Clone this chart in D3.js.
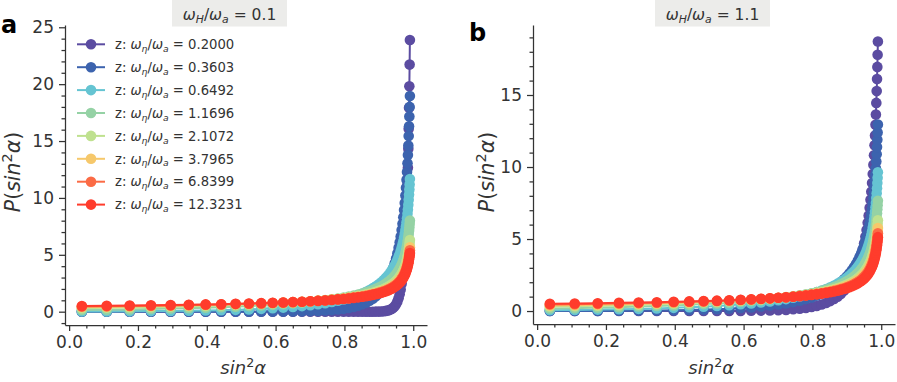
<!doctype html>
<html>
<head>
<meta charset="utf-8">
<script src="https://cdnjs.cloudflare.com/ajax/libs/d3/7.8.5/d3.min.js"></script>
<style>
  body { margin: 0; background: #fff; }
  svg text { font-family: "DejaVu Sans", sans-serif; fill: #333; white-space: pre; }
  .axis path, .axis line { stroke: #333; stroke-width: 1.25; }
</style>
</head>
<body>
<svg id="chart" width="897" height="382"></svg>
<script>
// sample points on the x axis (sin^2 alpha), shared by all curves
var sin2 = [0.0370, 0.1092, 0.1760, 0.2378, 0.2950, 0.3478, 0.3968, 0.4420, 0.4838, 0.5225,
  0.5583, 0.5915, 0.6221, 0.6504, 0.6767, 0.7009, 0.7233, 0.7441, 0.7633, 0.7810,
  0.7975, 0.8126, 0.8267, 0.8397, 0.8517, 0.8628, 0.8731, 0.8826, 0.8914, 0.8996,
  0.9071, 0.9141, 0.9205, 0.9265, 0.9320, 0.9371, 0.9418, 0.9462, 0.9502, 0.9539,
  0.9574, 0.9606, 0.9635, 0.9663, 0.9688, 0.9711, 0.9733, 0.9753, 0.9772, 0.9789,
  0.9805, 0.9819, 0.9833, 0.9845, 0.9857, 0.9868, 0.9878, 0.9887, 0.9895, 0.9903];

var zLabels = ["0.2000", "0.3603", "0.6492", "1.1696", "2.1072", "3.7965", "6.8399", "12.3231"];
var colors = ["#5b4ca1", "#3c63ae", "#65c4d2", "#95d2a5", "#bfe18f", "#f6c86b", "#fb6b45", "#ff3c2c"];
var xTicks = [0, 0.2, 0.4, 0.6, 0.8, 1.0];

// panel a, omega_H/omega_a = 0.1
var a_z0200 = [0, 0, 0, 0, 0, 0, 0, 0, 0, 0, 0, 0, 0, 0, 0, 0, 0, 0, 0, 0,
  0, 0, 0, 0, 0, 0, 0, 0, 0.01, 0.01, 0.02, 0.04, 0.07, 0.11, 0.16, 0.24, 0.34, 0.48, 0.66, 0.89,
  1.18, 1.53, 1.94, 2.45, 3.02, 3.68, 4.46, 5.32, 6.31, 7.37, 8.56, 9.79, 11.23, 12.65, 14.32, 16.08, 17.92, 19.81, 21.72, 23.88];
var a_z0360 = [0, 0, 0, 0, 0, 0, 0, 0, 0, 0, 0.01, 0.01, 0.01, 0.02, 0.03, 0.05, 0.07, 0.10, 0.14, 0.19,
  0.25, 0.33, 0.42, 0.53, 0.65, 0.79, 0.96, 1.14, 1.35, 1.58, 1.83, 2.11, 2.41, 2.73, 3.07, 3.44, 3.83, 4.25, 4.68, 5.13,
  5.61, 6.11, 6.62, 7.18, 7.74, 8.31, 8.93, 9.55, 10.22, 10.89, 11.59, 12.28, 13.05, 13.78, 14.60, 15.44, 16.30, 17.15, 18.00, 18.95];
var a_z0649 = [0.02, 0.02, 0.03, 0.05, 0.06, 0.08, 0.10, 0.13, 0.16, 0.20, 0.25, 0.30, 0.36, 0.42, 0.49, 0.57, 0.66, 0.75, 0.85, 0.96,
  1.07, 1.19, 1.32, 1.46, 1.60, 1.75, 1.90, 2.07, 2.23, 2.41, 2.59, 2.78, 2.98, 3.18, 3.39, 3.61, 3.83, 4.06, 4.30, 4.54,
  4.80, 5.06, 5.33, 5.62, 5.90, 6.20, 6.51, 6.83, 7.17, 7.51, 7.87, 8.22, 8.61, 8.99, 9.41, 9.84, 10.29, 10.73, 11.17, 11.66];
var a_z1170 = [0.15, 0.17, 0.20, 0.23, 0.27, 0.31, 0.35, 0.39, 0.44, 0.49, 0.55, 0.60, 0.66, 0.73, 0.79, 0.86, 0.93, 1.00, 1.08, 1.16,
  1.24, 1.33, 1.41, 1.51, 1.60, 1.70, 1.80, 1.90, 2.01, 2.12, 2.23, 2.35, 2.47, 2.60, 2.73, 2.86, 3.00, 3.15, 3.29, 3.45,
  3.61, 3.77, 3.94, 4.12, 4.30, 4.49, 4.69, 4.89, 5.11, 5.33, 5.56, 5.78, 6.04, 6.28, 6.55, 6.83, 7.12, 7.41, 7.70, 8.02];
var a_z3797 = [0.41, 0.43, 0.46, 0.49, 0.52, 0.55, 0.58, 0.62, 0.65, 0.68, 0.72, 0.76, 0.80, 0.84, 0.88, 0.92, 0.97, 1.01, 1.06, 1.11,
  1.16, 1.21, 1.26, 1.32, 1.38, 1.44, 1.50, 1.57, 1.63, 1.70, 1.78, 1.85, 1.93, 2.01, 2.09, 2.18, 2.27, 2.37, 2.46, 2.56,
  2.67, 2.78, 2.89, 3.01, 3.13, 3.26, 3.39, 3.53, 3.67, 3.82, 3.98, 4.13, 4.30, 4.47, 4.65, 4.84, 5.04, 5.24, 5.44, 5.66];
var a_z12323 = [0.49, 0.52, 0.54, 0.56, 0.58, 0.61, 0.64, 0.66, 0.69, 0.72, 0.75, 0.78, 0.81, 0.85, 0.88, 0.92, 0.95, 0.99, 1.03, 1.08,
  1.12, 1.16, 1.21, 1.26, 1.31, 1.36, 1.42, 1.48, 1.54, 1.60, 1.66, 1.73, 1.80, 1.87, 1.94, 2.02, 2.10, 2.19, 2.27, 2.36,
  2.46, 2.56, 2.66, 2.77, 2.88, 2.99, 3.11, 3.23, 3.36, 3.50, 3.64, 3.78, 3.93, 4.08, 4.25, 4.42, 4.60, 4.78, 4.96, 5.16];

// curves that look the same in both panels
var ab_z2107 = [0.31, 0.34, 0.37, 0.40, 0.44, 0.48, 0.51, 0.55, 0.59, 0.63, 0.68, 0.72, 0.77, 0.81, 0.86, 0.91, 0.97, 1.02, 1.08, 1.13,
  1.19, 1.26, 1.32, 1.39, 1.45, 1.52, 1.60, 1.67, 1.75, 1.83, 1.91, 2.00, 2.09, 2.18, 2.28, 2.38, 2.48, 2.59, 2.70, 2.81,
  2.94, 3.06, 3.19, 3.32, 3.46, 3.60, 3.75, 3.91, 4.07, 4.24, 4.41, 4.59, 4.78, 4.97, 5.17, 5.39, 5.61, 5.83, 6.06, 6.30];
var ab_z6840 = [0.45, 0.47, 0.50, 0.52, 0.55, 0.58, 0.61, 0.64, 0.67, 0.70, 0.73, 0.77, 0.80, 0.84, 0.88, 0.92, 0.96, 1.00, 1.05, 1.09,
  1.14, 1.19, 1.24, 1.29, 1.34, 1.40, 1.46, 1.52, 1.58, 1.65, 1.72, 1.79, 1.86, 1.94, 2.02, 2.10, 2.18, 2.27, 2.37, 2.46,
  2.56, 2.66, 2.77, 2.88, 3.00, 3.12, 3.25, 3.38, 3.51, 3.65, 3.80, 3.95, 4.11, 4.27, 4.44, 4.63, 4.81, 5.00, 5.19, 5.40];

// panel b, omega_H/omega_a = 1.1
var b_z0200 = [0, 0, 0, 0, 0, 0, 0, 0, 0, 0, 0.01, 0.01, 0.02, 0.03, 0.04, 0.06, 0.08, 0.12, 0.16, 0.21,
  0.28, 0.35, 0.45, 0.56, 0.69, 0.84, 1.00, 1.19, 1.40, 1.63, 1.89, 2.16, 2.46, 2.78, 3.13, 3.49, 3.87, 4.29, 4.71, 5.16,
  5.63, 6.13, 6.63, 7.17, 7.72, 8.29, 8.89, 9.51, 10.16, 10.82, 11.51, 12.18, 12.93, 13.65, 14.45, 15.27, 16.11, 16.95, 17.79, 18.71];
var b_z0360 = [0.01, 0.01, 0.01, 0.02, 0.03, 0.04, 0.06, 0.08, 0.10, 0.13, 0.16, 0.21, 0.25, 0.31, 0.38, 0.45, 0.53, 0.62, 0.72, 0.83,
  0.94, 1.07, 1.21, 1.35, 1.50, 1.67, 1.84, 2.02, 2.20, 2.40, 2.61, 2.82, 3.04, 3.27, 3.51, 3.76, 4.01, 4.28, 4.55, 4.83,
  5.12, 5.43, 5.73, 6.06, 6.39, 6.73, 7.09, 7.45, 7.84, 8.23, 8.64, 9.04, 9.48, 9.91, 10.39, 10.88, 11.39, 11.89, 12.39, 12.95];
var b_z0649 = [0.06, 0.08, 0.10, 0.12, 0.15, 0.18, 0.22, 0.26, 0.30, 0.35, 0.41, 0.47, 0.53, 0.60, 0.67, 0.75, 0.83, 0.92, 1.01, 1.11,
  1.21, 1.31, 1.42, 1.53, 1.65, 1.77, 1.90, 2.03, 2.16, 2.30, 2.45, 2.60, 2.75, 2.91, 3.08, 3.25, 3.42, 3.60, 3.79, 3.98,
  4.18, 4.39, 4.60, 4.82, 5.05, 5.28, 5.53, 5.79, 6.05, 6.32, 6.61, 6.89, 7.20, 7.50, 7.84, 8.18, 8.53, 8.89, 9.25, 9.64];
var b_z1170 = [0.18, 0.20, 0.24, 0.27, 0.31, 0.35, 0.39, 0.43, 0.48, 0.53, 0.58, 0.64, 0.69, 0.75, 0.81, 0.88, 0.95, 1.02, 1.09, 1.16,
  1.24, 1.32, 1.40, 1.49, 1.58, 1.67, 1.76, 1.86, 1.96, 2.07, 2.17, 2.28, 2.40, 2.52, 2.64, 2.76, 2.90, 3.03, 3.17, 3.32,
  3.47, 3.62, 3.78, 3.95, 4.12, 4.30, 4.49, 4.68, 4.89, 5.09, 5.31, 5.53, 5.77, 6.00, 6.25, 6.52, 6.79, 7.07, 7.34, 7.65];
var b_z3797 = [0.39, 0.41, 0.44, 0.47, 0.50, 0.53, 0.57, 0.60, 0.64, 0.67, 0.71, 0.75, 0.79, 0.83, 0.87, 0.92, 0.96, 1.01, 1.06, 1.11,
  1.16, 1.22, 1.27, 1.33, 1.39, 1.45, 1.52, 1.59, 1.65, 1.73, 1.80, 1.88, 1.96, 2.04, 2.13, 2.22, 2.31, 2.41, 2.51, 2.61,
  2.72, 2.83, 2.94, 3.07, 3.19, 3.32, 3.46, 3.60, 3.75, 3.90, 4.06, 4.21, 4.39, 4.56, 4.75, 4.94, 5.14, 5.35, 5.55, 5.77];
var b_z12323 = [0.50, 0.52, 0.54, 0.57, 0.59, 0.61, 0.64, 0.67, 0.69, 0.72, 0.75, 0.78, 0.81, 0.85, 0.88, 0.92, 0.95, 0.99, 1.03, 1.07,
  1.12, 1.16, 1.21, 1.26, 1.31, 1.36, 1.41, 1.47, 1.53, 1.59, 1.65, 1.72, 1.79, 1.86, 1.93, 2.01, 2.09, 2.18, 2.26, 2.35,
  2.44, 2.54, 2.64, 2.75, 2.86, 2.97, 3.09, 3.21, 3.34, 3.47, 3.61, 3.75, 3.91, 4.05, 4.22, 4.39, 4.57, 4.75, 4.93, 5.13];

var panelA = [a_z0200, a_z0360, a_z0649, a_z1170, ab_z2107, a_z3797, ab_z6840, a_z12323];
var panelB = [b_z0200, b_z0360, b_z0649, b_z1170, ab_z2107, b_z3797, ab_z6840, b_z12323];

var svg = d3.select("#chart");

// text with italic parts and sub/superscripts, roughly like mathtext
function rich(text, parts, size, small) {
  var shift = 0;
  small = small || 0.7;
  parts.forEach(function (p) {
    var target = p.sub ? size * 0.22 : (p.sup ? -size * 0.4 : 0);
    text.append("tspan")
      .attr("dy", target - shift)
      .style("font-size", (p.sub || p.sup ? size * small : size) + "px")
      .style("font-style", p.it ? "italic" : "normal")
      .text(p.t);
    shift = target;
  });
  return text;
}

var xLabelParts = [{t: "sin", it: 1}, {t: "2", sup: 1}, {t: "α", it: 1}];
var yLabelParts = [{t: "P", it: 1}, {t: "("}, {t: "sin", it: 1}, {t: "2", sup: 1}, {t: "α", it: 1}, {t: ")"}];

function drawPanel(cfg) {
  var x = d3.scaleLinear().domain([-0.012, 1.04]).range([cfg.left, cfg.right]);
  var y = d3.scaleLinear().domain(cfg.yDomain).range([cfg.bottom, cfg.top]);

  var xMinor = d3.range(0, 1.0001, 0.05).filter(function (v) { return Math.abs(v * 5 - Math.round(v * 5)) > 1e-6; });
  var yMinor = d3.range(Math.ceil(cfg.yDomain[0]), cfg.yDomain[1], 1).filter(function (v) { return v % 5 !== 0; });

  svg.append("g").attr("class", "axis")
    .attr("transform", "translate(0," + cfg.bottom + ")")
    .call(d3.axisBottom(x).tickValues(xMinor).tickSize(3.5).tickFormat(""))
    .select(".domain").remove();
  svg.append("g").attr("class", "axis")
    .attr("transform", "translate(" + cfg.left + ",0)")
    .call(d3.axisLeft(y).tickValues(yMinor).tickSize(3.5).tickFormat(""))
    .select(".domain").remove();

  svg.append("g").attr("class", "axis")
    .attr("transform", "translate(0," + cfg.bottom + ")")
    .call(d3.axisBottom(x).tickValues(xTicks).tickFormat(d3.format(".1f")).tickSize(6).tickPadding(5).tickSizeOuter(0));
  svg.append("g").attr("class", "axis")
    .attr("transform", "translate(" + cfg.left + ",0)")
    .call(d3.axisLeft(y).tickValues(cfg.yTicks).tickSize(6).tickPadding(5).tickSizeOuter(0));
  svg.selectAll(".axis text").style("font-size", "17px").style("font-family", "DejaVu Sans").attr("fill", "#333");

  var line = d3.line().x(function (d) { return x(d[0]); }).y(function (d) { return y(d[1]); });

  cfg.series.forEach(function (vals, i) {
    var pts = sin2.map(function (s, k) { return [s, vals[k]]; });
    var g = svg.append("g");
    g.append("path").attr("d", line(pts))
      .attr("fill", "none").attr("stroke", colors[i]).attr("stroke-width", 2);
    g.selectAll("circle").data(pts).enter().append("circle")
      .attr("cx", function (d) { return x(d[0]); })
      .attr("cy", function (d) { return y(d[1]); })
      .attr("r", 5.3)
      .attr("fill", colors[i]);
  });

  // axis labels
  rich(svg.append("text")
    .attr("x", (x(0) + x(1)) / 2 + 2).attr("y", 374)
    .attr("text-anchor", "middle"), xLabelParts, 18);
  rich(svg.append("text")
    .attr("transform", "translate(" + cfg.yLabelX + ",172) rotate(-90)")
    .attr("text-anchor", "middle"), yLabelParts, 20.5);

  // title box
  svg.append("rect").attr("x", cfg.boxX).attr("y", 0).attr("width", 115).attr("height", 26.5).attr("fill", "#ececea");
  rich(svg.append("text")
    .attr("x", cfg.boxX + 57.5).attr("y", 19.5)
    .attr("text-anchor", "middle"),
    [{t: "ω", it: 1}, {t: "H", it: 1, sub: 1}, {t: "/"}, {t: "ω", it: 1}, {t: "a", it: 1, sub: 1}, {t: " = " + cfg.title}], 15.5);

  // panel letter
  svg.append("text").attr("x", cfg.letterX).attr("y", cfg.letterY)
    .style("font-size", "24px").style("font-weight", "bold").style("fill", "#000")
    .text(cfg.letter);
}

drawPanel({left: 65, right: 427, top: 25, bottom: 325, yDomain: [-1.17, 25.2], yTicks: [0, 5, 10, 15, 20, 25],
  series: panelA, yLabelX: 20, boxX: 172, title: "0.1", letter: "a", letterX: 1, letterY: 33});
drawPanel({left: 533, right: 895, top: 25, bottom: 324, yDomain: [-0.9, 19.86], yTicks: [0, 5, 10, 15],
  series: panelB, yLabelX: 494, boxX: 655, title: "1.1", letter: "b", letterX: 469, letterY: 41});

// legend, panel a only
var legend = svg.append("g");
zLabels.forEach(function (z, i) {
  var ly = 44.3 + i * 22.9;
  legend.append("line").attr("x1", 77).attr("x2", 105).attr("y1", ly).attr("y2", ly)
    .attr("stroke", colors[i]).attr("stroke-width", 2);
  legend.append("circle").attr("cx", 91).attr("cy", ly).attr("r", 5.3).attr("fill", colors[i]);
  rich(legend.append("text").attr("x", 115).attr("y", ly + 4.7),
    [{t: "z: "}, {t: "ω", it: 1}, {t: "η", it: 1, sub: 1}, {t: "/"}, {t: "ω", it: 1}, {t: "a", it: 1, sub: 1}, {t: " = " + z}], 13.2);
});
</script>
</body>
</html>
